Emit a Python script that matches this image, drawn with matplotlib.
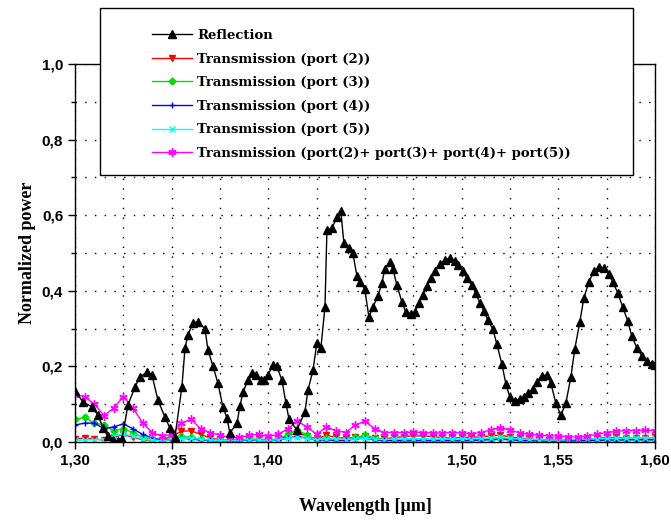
import numpy as np
import matplotlib
matplotlib.use("Agg")
import matplotlib.pyplot as plt
from matplotlib.ticker import MultipleLocator, FuncFormatter
from matplotlib.patches import Rectangle

# reflection curve
refl_wl = [1.3000, 1.3041, 1.3088, 1.3119, 1.3145, 1.3170, 1.3196, 1.3220, 1.3243, 1.3274,
           1.3310, 1.3336, 1.3372, 1.3398, 1.3429, 1.3465, 1.3491, 1.3517, 1.3553, 1.3569,
           1.3584, 1.3610, 1.3636, 1.3672, 1.3688, 1.3714, 1.3739, 1.3765, 1.3786, 1.3801,
           1.3838, 1.3853, 1.3869, 1.3895, 1.3915, 1.3936, 1.3962, 1.3977, 1.3998, 1.4024,
           1.4044, 1.4070, 1.4091, 1.4107, 1.4148, 1.4189, 1.4205, 1.4231, 1.4251, 1.4272,
           1.4293, 1.4303, 1.4329, 1.4355, 1.4375, 1.4391, 1.4417, 1.4437, 1.4458, 1.4474,
           1.4499, 1.4520, 1.4541, 1.4567, 1.4587, 1.4603, 1.4629, 1.4644, 1.4665, 1.4691,
           1.4711, 1.4737, 1.4758, 1.4779, 1.4799, 1.4820, 1.4841, 1.4861, 1.4887, 1.4913,
           1.4939, 1.4965, 1.4980, 1.5006, 1.5027, 1.5053, 1.5073, 1.5094, 1.5115, 1.5135,
           1.5161, 1.5182, 1.5208, 1.5229, 1.5249, 1.5275, 1.5301, 1.5322, 1.5342, 1.5368,
           1.5389, 1.5415, 1.5441, 1.5461, 1.5487, 1.5513, 1.5539, 1.5565, 1.5585, 1.5611,
           1.5632, 1.5658, 1.5684, 1.5709, 1.5735, 1.5761, 1.5782, 1.5808, 1.5833, 1.5859,
           1.5880, 1.5906, 1.5932, 1.5958, 1.5983, 1.6000]
reflection = [0.135, 0.106, 0.093, 0.071, 0.037, 0.015, 0.005, 0.003, 0.008, 0.098,
              0.145, 0.172, 0.185, 0.177, 0.111, 0.066, 0.037, 0.013, 0.146, 0.248,
              0.283, 0.315, 0.318, 0.300, 0.243, 0.200, 0.156, 0.093, 0.063, 0.024,
              0.050, 0.095, 0.132, 0.164, 0.183, 0.177, 0.164, 0.164, 0.177, 0.204,
              0.200, 0.164, 0.103, 0.060, 0.032, 0.079, 0.137, 0.190, 0.262, 0.250,
              0.357, 0.560, 0.566, 0.595, 0.610, 0.526, 0.513, 0.500, 0.440, 0.423,
              0.404, 0.331, 0.357, 0.386, 0.420, 0.458, 0.476, 0.458, 0.415, 0.370,
              0.344, 0.339, 0.344, 0.368, 0.389, 0.413, 0.434, 0.452, 0.471, 0.481,
              0.487, 0.479, 0.468, 0.452, 0.434, 0.415, 0.394, 0.368, 0.347, 0.323,
              0.299, 0.259, 0.206, 0.153, 0.119, 0.108, 0.114, 0.119, 0.130, 0.140,
              0.159, 0.175, 0.177, 0.156, 0.103, 0.071, 0.103, 0.172, 0.246, 0.317,
              0.381, 0.423, 0.452, 0.463, 0.460, 0.444, 0.423, 0.394, 0.357, 0.320,
              0.280, 0.249, 0.228, 0.214, 0.206, 0.205]

# transmission curves, sampled every 0.005 um
trans_wl = np.linspace(1.30, 1.60, 61)
port2 = [0.008, 0.01, 0.008, 0.005, 0.012, 0.02, 0.012, 0.006, 0.004, 0.006,
         0.015, 0.028, 0.03, 0.02, 0.01, 0.006, 0.004, 0.004, 0.006, 0.008,
         0.005, 0.008, 0.015, 0.025, 0.015, 0.008, 0.018, 0.012, 0.01, 0.012,
         0.015, 0.01, 0.008, 0.012, 0.014, 0.016, 0.016, 0.014, 0.012, 0.01,
         0.012, 0.012, 0.014, 0.016, 0.018, 0.014, 0.01, 0.008, 0.006, 0.006,
         0.005, 0.005, 0.006, 0.008, 0.01, 0.012, 0.012, 0.01, 0.01, 0.01, 0.012]
port3 = [0.06, 0.065, 0.05, 0.045, 0.03, 0.035, 0.025, 0.012, 0.006, 0.004,
         0.008, 0.015, 0.012, 0.008, 0.005, 0.004, 0.004, 0.006, 0.008, 0.006,
         0.004, 0.008, 0.02, 0.032, 0.018, 0.006, 0.01, 0.006, 0.005, 0.012,
         0.018, 0.01, 0.006, 0.005, 0.006, 0.005, 0.004, 0.005, 0.006, 0.005,
         0.004, 0.005, 0.006, 0.008, 0.01, 0.008, 0.006, 0.005, 0.004, 0.004,
         0.003, 0.004, 0.004, 0.005, 0.006, 0.006, 0.005, 0.006, 0.007, 0.006, 0.006]
port4 = [0.045, 0.05, 0.05, 0.035, 0.04, 0.048, 0.035, 0.02, 0.01, 0.006,
         0.006, 0.01, 0.008, 0.005, 0.004, 0.003, 0.003, 0.004, 0.005, 0.004,
         0.003, 0.005, 0.01, 0.015, 0.01, 0.005, 0.006, 0.004, 0.004, 0.008,
         0.01, 0.006, 0.004, 0.004, 0.003, 0.003, 0.004, 0.003, 0.004, 0.003,
         0.003, 0.004, 0.005, 0.006, 0.007, 0.006, 0.004, 0.003, 0.003, 0.002,
         0.002, 0.003, 0.003, 0.004, 0.004, 0.005, 0.005, 0.006, 0.006, 0.006, 0.006]
port5 = [0.004, 0.005, 0.006, 0.006, 0.015, 0.022, 0.015, 0.008, 0.005, 0.004,
         0.006, 0.01, 0.01, 0.007, 0.005, 0.004, 0.004, 0.005, 0.006, 0.005,
         0.004, 0.006, 0.01, 0.012, 0.01, 0.006, 0.008, 0.008, 0.006, 0.008,
         0.01, 0.008, 0.006, 0.008, 0.008, 0.009, 0.009, 0.008, 0.008, 0.008,
         0.009, 0.009, 0.01, 0.011, 0.012, 0.01, 0.008, 0.007, 0.006, 0.005,
         0.005, 0.006, 0.007, 0.008, 0.009, 0.01, 0.01, 0.01, 0.01, 0.011, 0.011]
port_sum = [0.125, 0.12, 0.10, 0.07, 0.09, 0.12, 0.09, 0.05, 0.025, 0.015,
            0.02, 0.05, 0.06, 0.035, 0.025, 0.018, 0.012, 0.012, 0.018, 0.02,
            0.015, 0.02, 0.035, 0.055, 0.04, 0.02, 0.04, 0.03, 0.025, 0.045,
            0.055, 0.035, 0.025, 0.025, 0.025, 0.026, 0.025, 0.024, 0.024, 0.025,
            0.024, 0.022, 0.025, 0.032, 0.038, 0.032, 0.024, 0.02, 0.018, 0.016,
            0.016, 0.014, 0.013, 0.016, 0.02, 0.025, 0.028, 0.03, 0.03, 0.031, 0.03]

labels = ["Reflection",
          "Transmission (port (2))",
          "Transmission (port (3))",
          "Transmission (port (4))",
          "Transmission (port (5))",
          "Transmission (port(2)+ port(3)+ port(4)+ port(5))"]

fig = plt.figure(figsize=(6.71, 5.22), dpi=100)
ax = fig.add_axes([75 / 671, 80 / 522, 580 / 671, 378 / 522])

ax.plot(refl_wl, reflection, color="black", lw=1, marker="^", ms=5.5, label=labels[0], zorder=6)
ax.plot(trans_wl, port2, color="red", lw=1, marker="v", ms=4, label=labels[1])
ax.plot(trans_wl, port3, color="#00dd00", lw=1, marker="D", ms=3.5, label=labels[2])
ax.plot(trans_wl, port4, color="blue", lw=1, marker="+", ms=5, label=labels[3])
ax.plot(trans_wl, port5, color="cyan", lw=1, marker="x", ms=4, label=labels[4])
ax.plot(trans_wl, port_sum, color="magenta", lw=1, marker=(6, 2, 0), ms=6, label=labels[5])

ax.set_xlim(1.30, 1.60)
ax.set_ylim(0.0, 1.0)
ax.xaxis.set_major_locator(MultipleLocator(0.05))
ax.xaxis.set_minor_locator(MultipleLocator(0.025))
ax.yaxis.set_major_locator(MultipleLocator(0.2))
ax.yaxis.set_minor_locator(MultipleLocator(0.1))
ax.xaxis.set_major_formatter(FuncFormatter(lambda v, p: f"{v:.2f}".replace(".", ",")))
ax.yaxis.set_major_formatter(FuncFormatter(lambda v, p: f"{v:.1f}".replace(".", ",")))
ax.tick_params(which="major", direction="out", length=5, width=1)
ax.tick_params(which="minor", direction="out", length=3, width=1)
for t in ax.get_xticklabels() + ax.get_yticklabels():
    t.set_fontfamily("Liberation Sans")
    t.set_fontweight("bold")
    t.set_fontsize(11)
ax.grid(which="both", color="black", linestyle=(0, (1, 6)), linewidth=1)
ax.set_axisbelow(True)
for s in ax.spines.values():
    s.set_linewidth(1)

ax.set_xlabel("Wavelength [\u00b5m]", family="Liberation Serif", weight="bold", fontsize=13, labelpad=22)
ax.set_ylabel("Normalized power", family="Liberation Serif", weight="bold", fontsize=13, labelpad=4)

# legend box sits on top of the axes, partly outside
box = Rectangle((100 / 671, 1 - 175 / 522), 533 / 671, 167 / 522, transform=fig.transFigure,
                facecolor="white", edgecolor="black", lw=1, zorder=3)
fig.patches.append(box)
handles, labs = ax.get_legend_handles_labels()
leg = fig.legend(handles, labs, loc="upper left", bbox_to_anchor=(152 / 671, 1 - 29 / 522),
                 frameon=False, prop={"family": "DejaVu Serif", "weight": "bold", "size": 9.5},
                 handlelength=3.0, handletextpad=0.4, labelspacing=0.8, borderaxespad=0,
                 borderpad=0)
leg.set_zorder(4)

fig.savefig("out.png", dpi=100)
